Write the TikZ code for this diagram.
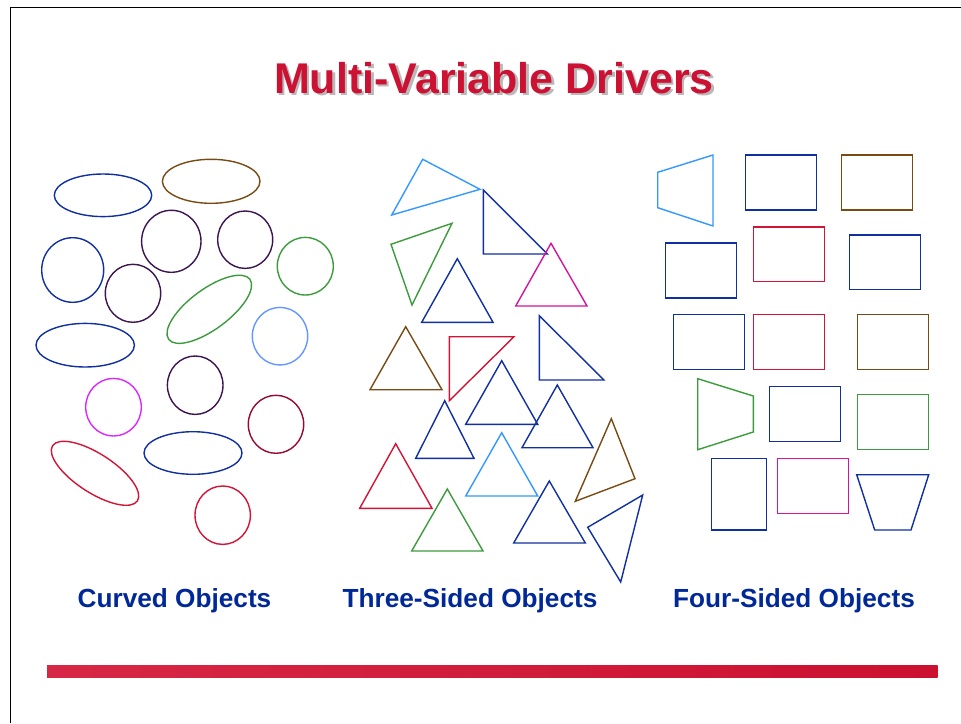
\documentclass[tikz,border=0pt]{standalone}
\usepackage{fontspec}
\setmainfont{Liberation Sans}
\usetikzlibrary{shadings}

\definecolor{shapeblue}{RGB}{16,48,160}
\definecolor{shapebrown}{RGB}{120,75,20}
\definecolor{shapeplum}{RGB}{60,20,80}
\definecolor{shapegreen}{RGB}{60,155,60}
\definecolor{shapesky}{RGB}{102,150,255}
\definecolor{shapeazure}{RGB}{51,153,255}
\definecolor{shapeviolet}{RGB}{220,40,255}
\definecolor{shapewine}{RGB}{150,10,50}
\definecolor{shapered}{RGB}{210,20,55}
\definecolor{shapepink}{RGB}{210,20,160}
\definecolor{titlered}{RGB}{204,17,51}
\definecolor{titleshade}{RGB}{185,185,185}
\definecolor{labelblue}{RGB}{0,40,150}
\definecolor{barleft}{RGB}{214,40,70}
\definecolor{barright}{RGB}{204,16,48}

% title text with a soft drop shadow, set as a single box
\newcommand{\shadowedtitle}[1]{%
  \rlap{\hspace{2.5pt}\raisebox{-2.5pt}{\textcolor{titleshade}{#1}}}%
  \textcolor{titlered}{#1}}

\tikzset{
  outline/.style={draw=#1, line width=1.4pt, line join=miter},
  heading/.style={anchor=base, inner sep=0pt, font=\fontsize{43}{48}\selectfont\bfseries},
  caption/.style={anchor=base, inner sep=0pt, text=labelblue, font=\fontsize{26.2}{30}\selectfont\bfseries},
}

\begin{document}
\begin{tikzpicture}[x=1pt, y=-1pt]
\useasboundingbox (0,0) rectangle (961,723);
\fill[white] (0,0) rectangle (961,723);

% slide frame: top and left edges
\draw[line width=1.3pt, black] (10.3,723) -- (10.3,7.3) -- (961,7.3);

% title
\node[heading] (title) at (494,93.3) {\shadowedtitle{Multi-Variable Drivers}};

% ---- curved objects ----
\draw[outline=shapeblue]  (103,195.3)   ellipse [x radius=48.7, y radius=21.3];
\draw[outline=shapebrown] (211.2,181.3) ellipse [x radius=48.8, y radius=22];
\draw[outline=shapeplum]  (171.3,241.3) ellipse [x radius=29.7, y radius=31];
\draw[outline=shapeplum]  (245.2,239.7) ellipse [x radius=27.5, y radius=28.7];
\draw[outline=shapegreen] (305.3,266.2) ellipse [x radius=28, y radius=28.8];
\draw[outline=shapeblue]  (72.7,270)    ellipse [x radius=31, y radius=32.3];
\draw[outline=shapeplum]  (133,293.3)   ellipse [x radius=27.7, y radius=29];
\draw[outline=shapegreen, rotate around={36.5:(209.3,309.3)}] (209.3,309.3) ellipse [x radius=50.5, y radius=20];
\draw[outline=shapesky]   (280,336.2)   ellipse [x radius=27.7, y radius=28.8];
\draw[outline=shapeblue]  (85.2,345.2)  ellipse [x radius=49.2, y radius=21.8];
\draw[outline=shapeplum]  (195.2,385.2) ellipse [x radius=27.8, y radius=29.2];
\draw[outline=shapeviolet] (113.5,407.2) ellipse [x radius=27.8, y radius=28.8];
\draw[outline=shapewine]  (276,424.3)   ellipse [x radius=27.7, y radius=29];
\draw[outline=shapeblue]  (193,453)     ellipse [x radius=49, y radius=21.3];
\draw[outline=shapered, rotate around={-33:(95,473.3)}] (95,473.3) ellipse [x radius=50.6, y radius=19.4];
\draw[outline=shapered]   (222.7,515.2) ellipse [x radius=27.7, y radius=29.2];

% ---- three-sided objects ----
\draw[outline=shapeazure] (422.7,159.3) -- (480,189.3) -- (391.7,215) -- cycle;
\draw[outline=shapeblue]  (483.3,190) -- (483.3,254) -- (547.3,254) -- cycle;
\draw[outline=shapegreen] (391,244.3) -- (452,223.3) -- (412,305) -- cycle;
\draw[outline=shapeblue]  (457.3,258.7) -- (421.7,322.3) -- (493,322.3) -- cycle;
\draw[outline=shapepink]  (551,243.3) -- (515.7,306) -- (587,306) -- cycle;
\draw[outline=shapebrown] (405.7,326.7) -- (370,389.7) -- (442,389.7) -- cycle;
\draw[outline=shapered]   (449.3,336.7) -- (514,336.7) -- (449.3,400.7) -- cycle;
\draw[outline=shapeblue]  (539.3,315.7) -- (539.3,380) -- (604,380) -- cycle;
\draw[outline=shapeblue]  (501.7,360.7) -- (465.7,424.3) -- (537.7,424.3) -- cycle;
\draw[outline=shapeblue]  (557.3,385) -- (522,447.7) -- (593,447.7) -- cycle;
\draw[outline=shapeblue]  (444.7,400.7) -- (415.7,458.3) -- (474,458.3) -- cycle;
\draw[outline=shapebrown] (611.3,418.7) -- (635,478.7) -- (575.3,501.3) -- cycle;
\draw[outline=shapeazure] (501.7,432.7) -- (465.7,496) -- (537.7,496) -- cycle;
\draw[outline=shapered]   (395.7,443.7) -- (359.7,508.3) -- (432,508.3) -- cycle;
\draw[outline=shapegreen] (447.3,489) -- (411.7,551) -- (483,551) -- cycle;
\draw[outline=shapeblue]  (549.3,481) -- (513.7,543) -- (585.3,543) -- cycle;
\draw[outline=shapeblue]  (642.7,495) -- (587.7,527.3) -- (620.7,582) -- cycle;

% ---- four-sided objects ----
\draw[outline=shapeazure] (657.7,172.3) -- (713,155) -- (713,226) -- (657.7,207.7) -- cycle;
\draw[outline=shapeblue]  (745.3,155) rectangle (816.7,210);
\draw[outline=shapebrown] (841.7,155) rectangle (912.7,210);
\draw[outline=shapeblue]  (665.3,243) rectangle (736.7,298);
\draw[outline=shapered]   (753.3,227) rectangle (824.7,281.7);
\draw[outline=shapeblue]  (849.3,235) rectangle (920.7,289.7);
\draw[outline=shapeblue]  (673.3,314.7) rectangle (744.7,369.7);
\draw[outline=shapered]   (753.3,314.7) rectangle (824.7,369.7);
\draw[outline=shapebrown] (857.3,314.7) rectangle (928.7,369.7);
\draw[outline=shapegreen] (697.7,378.7) -- (753.3,396) -- (753.3,432) -- (697.7,449.7) -- cycle;
\draw[outline=shapeblue]  (769.3,386.7) rectangle (840.7,441.7);
\draw[outline=shapegreen] (857.3,394.7) rectangle (928.7,449.7);
\draw[outline=shapeblue]  (711.3,458.7) rectangle (766.7,530);
\draw[outline=shapepink]  (777.3,458.7) rectangle (848.7,513.7);
\draw[outline=shapeblue]  (856.7,474.7) -- (928.7,474.7) -- (911,530) -- (874.7,530) -- cycle;

% group captions
\node[caption] (curved) at (174.5,607.5) {Curved Objects};
\node[caption] (threesided) at (470,607.5) {Three-Sided Objects};
\node[caption] (foursided) at (794,607.5) {Four-Sided Objects};

% footer bar
\shade[left color=barleft, right color=barright] (47,665) rectangle (937.7,677.7);
\end{tikzpicture}
\end{document}
